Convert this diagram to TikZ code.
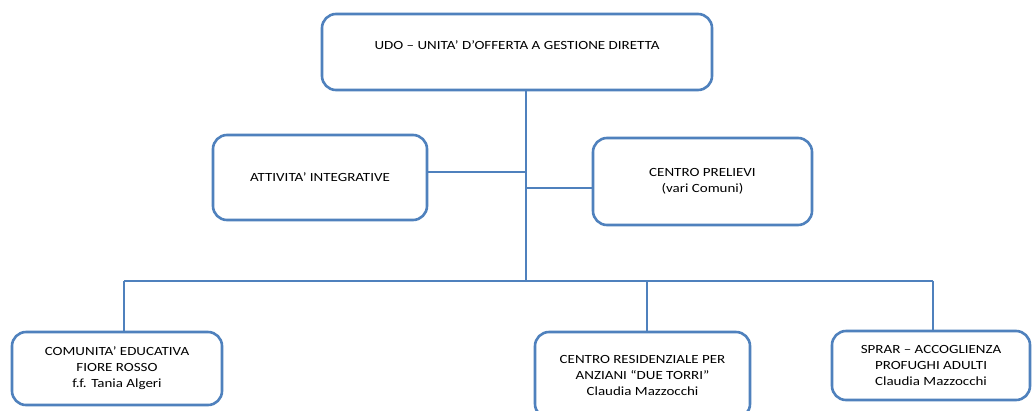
\documentclass[tikz,border=0pt]{standalone}
\usepackage{fontspec}
\setmainfont[FakeStretch=1.2]{Carlito}
\definecolor{ublue}{RGB}{79,129,189}
\begin{document}
\begin{tikzpicture}[x=1pt,y=-1pt,
  box/.style={draw=ublue,line width=2.6pt,rounded corners=14pt,fill=white,align=center,
    font=\fontsize{12.5}{16}\selectfont,inner sep=0pt},
  conn/.style={draw=ublue,line width=1.4pt}]
\clip (0,0) rectangle (1032,410);
\fill[white] (0,0) rectangle (1032,410);
% nodes
\node[box,minimum width=390pt,minimum height=76pt,text depth=14pt] (top) at (517,52) {UDO – UNITA’ D’OFFERTA A GESTIONE DIRETTA};
\node[box,minimum width=214pt,minimum height=85pt] (att) at (320,177.5) {ATTIVITA’ INTEGRATIVE};
\node[box,minimum width=219pt,minimum height=87pt] (prel) at (702.5,181.5) {CENTRO PRELIEVI\\(vari Comuni)};
\node[box,minimum width=210pt,minimum height=73pt] (com) at (117,368.5) {COMUNITA’ EDUCATIVA\\FIORE ROSSO\\f.f. Tania Algeri};
\node[box,minimum width=215pt,minimum height=86pt] (res) at (642.5,375) {CENTRO RESIDENZIALE PER\\ANZIANI “DUE TORRI”\\Claudia Mazzocchi};
\node[box,minimum width=198pt,minimum height=69pt] (spr) at (931,365.5) {SPRAR – ACCOGLIENZA\\PROFUGHI ADULTI\\Claudia Mazzocchi};
% coordinates
\coordinate (tk) at (526,281);
\coordinate (b1) at (124,281);
\coordinate (b2) at (647,281);
\coordinate (b3) at (933,281);
\coordinate (ja) at (526,172);
\coordinate (jp) at (526,188);
% connectors
\draw[conn] (top.south -| tk) -- (tk);
\draw[conn] (att.east |- ja) -- (ja);
\draw[conn] (jp) -- (prel.west |- jp);
\draw[conn] (b1) -- (b3);
\draw[conn] (b1) -- (b1 |- com.north);
\draw[conn] (b2) -- (b2 |- res.north);
\draw[conn] (b3) -- (b3 |- spr.north);
\end{tikzpicture}
\end{document}
